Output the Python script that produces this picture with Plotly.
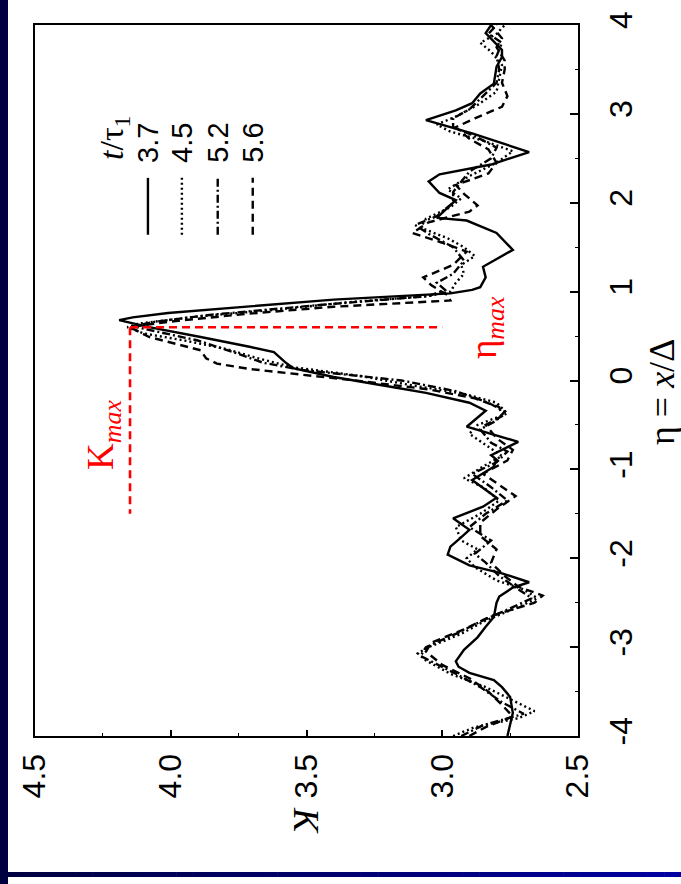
import plotly.graph_objects as go

# ---- data: kurtosis K versus eta = x/Delta at four times t/tau_1 ----
times = ["3.7", "4.5", "5.2", "5.6"]

eta_37 = [-4.00, -3.74, -3.56, -3.45, -3.37, -3.29, -3.22, -3.16, -3.03, -2.89, -2.77, -2.66,
          -2.50, -2.43, -2.33, -2.27, -2.17, -2.08, -1.96, -1.87, -1.79, -1.68, -1.55, -1.42,
          -1.32, -1.12, -0.97, -0.89, -0.84, -0.69, -0.52, -0.34, -0.25, -0.14, -0.07, 0.04,
          0.14, 0.21, 0.32, 0.38, 0.49, 0.60, 0.68, 0.71, 0.76, 0.82, 0.91, 0.98, 1.02, 1.05,
          1.16, 1.28, 1.47, 1.66, 1.80, 1.83, 2.03, 2.11, 2.24, 2.32, 2.43, 2.57, 2.78, 2.93,
          3.04, 3.12, 3.23, 3.34, 3.53, 3.64, 3.72, 3.91, 4.00]
k_37 = [2.76, 2.74, 2.75, 2.78, 2.81, 2.90, 2.94, 2.95, 2.92, 2.87, 2.84, 2.81,
        2.80, 2.79, 2.74, 2.68, 2.78, 2.90, 2.98, 2.97, 2.94, 2.90, 2.96, 2.85,
        2.80, 2.89, 2.81, 2.80, 2.82, 2.72, 2.91, 2.84, 2.90, 3.06, 3.19, 3.40,
        3.55, 3.58, 3.62, 3.71, 3.89, 4.08, 4.19, 4.14, 4.01, 3.77, 3.40, 2.97, 2.89, 2.86,
        2.84, 2.85, 2.74, 2.80, 2.91, 3.02, 2.95, 3.01, 3.05, 3.01, 2.82, 2.68, 2.89, 3.06,
        2.95, 2.89, 2.86, 2.81, 2.80, 2.78, 2.78, 2.84, 2.82]

eta_45 = [-4.00, -3.90, -3.80, -3.72, -3.60, -3.45, -3.30, -3.15, -3.07, -3.00, -2.85, -2.70,
          -2.55, -2.45, -2.35, -2.25, -2.10, -2.00, -1.90, -1.80, -1.65, -1.50, -1.35, -1.20,
          -1.10, -0.95, -0.85, -0.75, -0.60, -0.50, -0.37, -0.25, -0.15, -0.05, 0.05, 0.15,
          0.25, 0.35, 0.45, 0.53, 0.60, 0.64, 0.72, 0.80, 0.88, 0.95, 1.00, 1.10, 1.20, 1.30,
          1.40, 1.50, 1.60, 1.72, 1.82, 1.95, 2.05, 2.15, 2.30, 2.45, 2.58, 2.70, 2.80, 2.88,
          2.97, 3.10, 3.25, 3.40, 3.55, 3.70, 3.80, 3.90, 4.00]
k_45 = [2.96, 2.88, 2.72, 2.66, 2.74, 2.84, 2.97, 3.06, 3.09, 3.05, 2.93, 2.84,
        2.72, 2.65, 2.70, 2.80, 2.88, 2.91, 2.87, 2.93, 2.95, 2.86, 2.79, 2.85,
        2.92, 2.84, 2.78, 2.83, 2.90, 2.87, 2.76, 2.80, 2.92, 3.12, 3.30, 3.55,
        3.68, 3.79, 3.95, 4.10, 4.16, 4.12, 3.90, 3.60, 3.35, 3.05, 2.97, 2.95, 2.92, 2.93,
        2.88, 2.92, 2.98, 3.08, 3.06, 2.97, 2.93, 2.98, 2.90, 2.80, 2.74, 2.85, 2.97, 3.02,
        2.95, 2.87, 2.80, 2.79, 2.78, 2.82, 2.86, 2.80, 2.77]

eta_52 = [-4.00, -3.88, -3.75, -3.62, -3.45, -3.30, -3.10, -3.00, -2.85, -2.70, -2.55, -2.45,
          -2.35, -2.20, -2.05, -1.95, -1.80, -1.65, -1.50, -1.35, -1.20, -1.05, -0.92, -0.80,
          -0.70, -0.55, -0.45, -0.35, -0.25, -0.12, 0.00, 0.12, 0.20, 0.32, 0.45, 0.55,
          0.61, 0.66, 0.74, 0.85, 0.95, 1.02, 1.10, 1.20, 1.35, 1.50, 1.65, 1.75, 1.85, 2.00,
          2.12, 2.20, 2.35, 2.50, 2.62, 2.75, 2.85, 2.95, 3.05, 3.20, 3.35, 3.50, 3.65, 3.80,
          3.90, 4.00]
k_52 = [2.93, 2.85, 2.70, 2.78, 2.86, 2.95, 3.08, 3.06, 2.95, 2.85, 2.74, 2.67,
        2.72, 2.79, 2.84, 2.88, 2.82, 2.90, 2.84, 2.76, 2.82, 2.89, 2.80, 2.76,
        2.82, 2.86, 2.80, 2.77, 2.83, 2.95, 3.15, 3.52, 3.66, 3.77, 3.90, 4.05,
        4.14, 4.06, 3.85, 3.45, 3.05, 2.99, 3.02, 2.96, 2.92, 2.96, 3.05, 3.10, 3.02, 2.96,
        2.96, 2.94, 2.90, 2.82, 2.80, 2.88, 2.96, 2.96, 2.90, 2.85, 2.80, 2.79, 2.80, 2.78,
        2.83, 2.80]

eta_56 = [-4.00, -3.90, -3.78, -3.65, -3.50, -3.35, -3.20, -3.05, -2.95, -2.80, -2.65, -2.50,
          -2.42, -2.32, -2.20, -2.05, -1.90, -1.75, -1.60, -1.45, -1.30, -1.15, -1.05, -0.90,
          -0.78, -0.65, -0.50, -0.40, -0.30, -0.20, -0.10, 0.00, 0.08, 0.13, 0.19, 0.25,
          0.34, 0.49, 0.60, 0.66, 0.75, 0.83, 0.90, 0.96, 1.07, 1.16, 1.30, 1.45, 1.55, 1.66,
          1.78, 1.90, 1.97, 2.10, 2.20, 2.33, 2.45, 2.60, 2.72, 2.85, 2.95, 3.08, 3.20, 3.35,
          3.50, 3.60, 3.75, 3.85, 4.00]
k_56 = [2.90, 2.84, 2.74, 2.78, 2.83, 2.90, 3.00, 3.06, 3.04, 2.92, 2.82, 2.66,
        2.63, 2.72, 2.77, 2.82, 2.80, 2.86, 2.86, 2.80, 2.73, 2.80, 2.85, 2.76,
        2.74, 2.80, 2.84, 2.78, 2.79, 2.88, 3.05, 3.32, 3.55, 3.71, 3.83, 3.87,
        3.89, 4.08, 4.15, 4.01, 3.72, 3.40, 2.97, 2.98, 3.04, 3.07, 2.96, 2.91, 3.00, 3.11,
        3.05, 2.90, 2.87, 2.92, 2.95, 2.83, 2.80, 2.83, 2.90, 2.95, 2.88, 2.78, 2.76, 2.78,
        2.77, 2.77, 2.80, 2.78, 2.82]

# peak marker values
k_max = 4.15
eta_max = 0.60
k_max_line_end = 3.0
eta_guide_end = -1.5

# axis ticks
k_ticks = [2.5, 3.0, 3.5, 4.0, 4.5]
k_tick_labels = ["2.5", "3.0", "3.5", "4.0", "4.5"]
eta_ticks = [-4, -3, -2, -1, 0, 1, 2, 3, 4]
eta_tick_labels = ["-4", "-3", "-2", "-1", "0", "1", "2", "3", "4"]

# legend sample positions (K coordinate of each vertical sample line) and span in eta
legend_k = [4.084, 3.959, 3.827, 3.698]
legend_eta = [1.64, 2.28]

series = [(eta_37, k_37), (eta_45, k_45), (eta_52, k_52), (eta_56, k_56)]
dashes = ["solid", "2px,3px", "8px,3px,2px,3px", "8px,5px"]

# ---- page geometry ----
W, H = 681, 884
ML, MR, MT, MB = 35, 103, 25, 148
PW, PH = W - ML - MR, H - MT - MB


def px_x(p):
    return (p - ML) / PW


def px_y(p):
    return (H - MB - p) / PH


fig = go.Figure()

for (eta, k), dash, t in zip(series, dashes, times):
    fig.add_trace(go.Scatter(x=k, y=eta, mode="lines", name=t,
                             line=dict(color="black", width=2.4, dash=dash),
                             showlegend=False, hoverinfo="skip"))

# red guide lines for the maximum
fig.add_trace(go.Scatter(x=[k_max, k_max_line_end], y=[eta_max, eta_max], mode="lines",
                         line=dict(color="#ff0000", width=2.6, dash="8px,5px"),
                         showlegend=False, hoverinfo="skip"))
fig.add_trace(go.Scatter(x=[k_max, k_max], y=[eta_max, eta_guide_end], mode="lines",
                         line=dict(color="#ff0000", width=2.6, dash="8px,5px"),
                         showlegend=False, hoverinfo="skip"))

# hand-placed legend samples
for lk, dash in zip(legend_k, dashes):
    fig.add_trace(go.Scatter(x=[lk, lk], y=legend_eta, mode="lines",
                             line=dict(color="black", width=2.4, dash=dash),
                             showlegend=False, hoverinfo="skip"))

sans = "Liberation Sans, Arial, sans-serif"
serif = "Liberation Serif, Times New Roman, serif"

annotations = []
# legend labels
for lk, t in zip(legend_k, times):
    annotations.append(dict(x=lk, y=px_y(143), xref="x", yref="paper", text=t,
                            showarrow=False, textangle=-90,
                            font=dict(family=sans, size=29, color="black"),
                            xanchor="center", yanchor="middle"))
annotations.append(dict(x=px_x(114), y=px_y(138), xref="paper", yref="paper",
                        text="<i>t</i>/τ<sub>1</sub>", showarrow=False, textangle=-90,
                        font=dict(family=serif, size=34, color="black"),
                        xanchor="center", yanchor="middle"))
# red labels
annotations.append(dict(x=px_x(103), y=px_y(435), xref="paper", yref="paper",
                        text="K<sub><i>max</i></sub>", showarrow=False, textangle=-90,
                        font=dict(family=serif, size=37, color="#ff0000"),
                        xanchor="center", yanchor="middle"))
annotations.append(dict(x=px_x(486), y=px_y(328), xref="paper", yref="paper",
                        text="η<sub><i>max</i></sub>", showarrow=False, textangle=-90,
                        font=dict(family=serif, size=37, color="#ff0000"),
                        xanchor="center", yanchor="middle"))
# axis titles
annotations.append(dict(x=px_x(662), y=px_y(392), xref="paper", yref="paper",
                        text="η = <i>x</i>/Δ", showarrow=False, textangle=-90,
                        font=dict(family=serif, size=36, color="black"),
                        xanchor="center", yanchor="middle"))
annotations.append(dict(x=px_x(306), y=px_y(820), xref="paper", yref="paper",
                        text="<i>K</i>", showarrow=False, textangle=90,
                        font=dict(family=serif, size=36, color="black"),
                        xanchor="center", yanchor="middle"))

# blue page frame: dark bar on the left, graded bar along the bottom
shapes = [dict(type="rect", xref="paper", yref="paper", x0=px_x(0), x1=px_x(8),
               y0=px_y(H), y1=px_y(0), fillcolor="#000040", line=dict(width=0), layer="below")]
n_seg = 40
c0 = (0, 0, 64)
c1 = (0, 0, 160)
seg_w = (W - 8) / n_seg
for i in range(n_seg):
    f = i / (n_seg - 1)
    col = "rgb(%d,%d,%d)" % tuple(round(a + (b - a) * f) for a, b in zip(c0, c1))
    shapes.append(dict(type="rect", xref="paper", yref="paper",
                       x0=px_x(8 + i * seg_w), x1=px_x(8 + (i + 1) * seg_w + 0.6),
                       y0=px_y(877), y1=px_y(872), fillcolor=col, line=dict(width=0),
                       layer="below"))

fig.update_layout(
    width=W, height=H,
    margin=dict(l=ML, r=MR, t=MT, b=MB, pad=0),
    paper_bgcolor="white", plot_bgcolor="white",
    annotations=annotations, shapes=shapes,
    xaxis=dict(range=[4.5, 2.5], tickvals=k_ticks, ticktext=k_tick_labels,
               tickangle=-90, ticks="inside", ticklen=6, tickwidth=1.5, tickcolor="black",
               minor=dict(dtick=0.25, tick0=2.5, ticks="inside", ticklen=3, tickwidth=1.2,
                          tickcolor="black", showgrid=False),
               showline=True, linecolor="black", linewidth=2.2, mirror=True,
               showgrid=False, zeroline=False, ticklabelstandoff=3,
               tickfont=dict(family=sans, size=32, color="black")),
    yaxis=dict(range=[-4, 4], side="right", tickvals=eta_ticks, ticktext=eta_tick_labels,
               tickangle=-90, ticks="inside", ticklen=8, tickwidth=1.5, tickcolor="black",
               minor=dict(dtick=0.5, tick0=0, ticks="inside", ticklen=3, tickwidth=1.2,
                          tickcolor="black", showgrid=False),
               showline=True, linecolor="black", linewidth=2.2, mirror=True,
               showgrid=False, zeroline=False, ticklabelstandoff=13,
               tickfont=dict(family=sans, size=32, color="black")),
)

fig.write_html("out.html")
